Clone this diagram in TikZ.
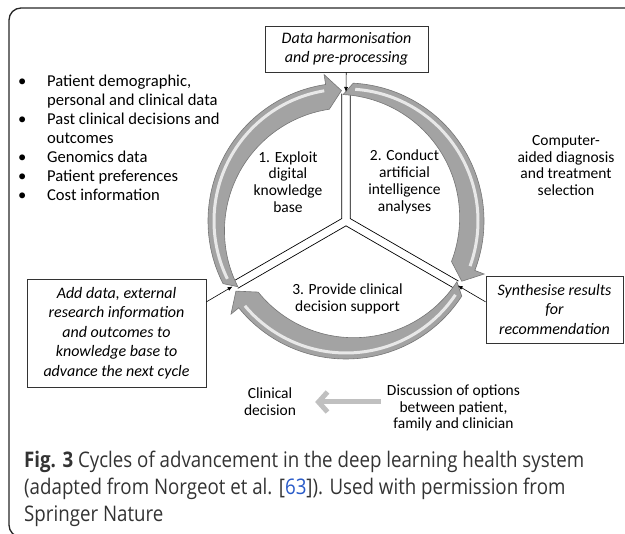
\documentclass[tikz,border=0pt]{standalone}
\usepackage{fontspec}
\setmainfont{Carlito}
\newfontfamily\capfont{Open Sans}[FakeStretch=0.87]
\usetikzlibrary{arrows.meta,calc}

\definecolor{ringgray}{RGB}{163,163,163}
\definecolor{ringedge}{RGB}{118,118,118}
\definecolor{ringshine}{RGB}{232,232,232}
\definecolor{optgray}{RGB}{192,192,192}
\definecolor{citeblue}{RGB}{40,90,200}

\tikzset{
  celltext/.style={font=\fontsize{15.5}{16.8}\selectfont, align=center, inner sep=0pt},
  notebox/.style={draw=black!80, line width=0.9pt, font=\fontsize{16}{19.5}\selectfont\itshape, align=center, inner sep=0pt},
  feed/.style={-{Latex[length=5pt,width=4pt]}, line width=0.6pt},
  cut/.style={line width=0.7pt},
  ringarrow/.style={fill=ringgray, draw=ringedge, line width=0.6pt},
  shine/.style={draw=ringshine, line width=3pt},
  optarrow/.style={draw=optgray, line width=5pt, -{Straight Barb[length=9pt,width=20pt]}},
}

\begin{document}
\begin{tikzpicture}[x=1pt, y=1pt]
  \useasboundingbox (0,0) rectangle (625,534);
  \begin{scope}
    \clip (0,0) rectangle (625,534);
    \draw[line width=1.3pt, draw=black!85, rounded corners=12pt] (9,-3) rectangle (660,526);
  \end{scope}

  \coordinate (hub) at (346,313);
  \coordinate (leftcorner) at ($(hub)+(150:4.85)$);
  \coordinate (rightcorner) at ($(hub)+(30:4.85)$);
  \coordinate (lowcorner) at ($(hub)+(270:4.85)$);

  \draw[cut] ($(leftcorner)+(90:125)$) -- (leftcorner) -- ++(210:125);
  \draw[cut] ($(rightcorner)+(90:125)$) -- (rightcorner) -- ++(330:125);
  \draw[cut] ($(lowcorner)+(210:125)$) -- (lowcorner) -- ++(330:125);

  \begin{scope}[shift={(hub)}]
    \foreach \tail/\tip in {207/92, 87/-27.5, -33/-147.5}{
      \path[ringarrow] (\tail:138) arc[start angle=\tail, end angle=\tip+6.5, radius=138]
        -- ({\tip+6.5}:148) -- (\tip:130.5) -- ({\tip+6.5}:113)
        arc[start angle=\tip+6.5, end angle=\tail, radius=123] -- cycle;
      \draw[shine] ({\tail-1}:132) arc[start angle=\tail-1, end angle=\tip+7.5, radius=132];
    }
  \end{scope}

  \coordinate (toptip) at ($(hub)+(90:129)$);
  \coordinate (righttip) at ($(hub)+(330:129)$);
  \coordinate (lefttip) at ($(hub)+(210:131)$);
  \coordinate (rightfoot) at ($(hub)+(330:161.7)$);
  \coordinate (leftfoot) at ($(hub)+(210:161.7)$);

  \node[notebox, minimum width=163pt, minimum height=46pt] (harmonise) at (346.5,485) {Data harmonisation\\and pre-processing};
  \node[notebox, minimum width=137pt, minimum height=67pt] (synthesise) at (554.5,224.5) {Synthesise results\\for\\recommendation};
  \node[notebox, minimum width=179pt, minimum height=108pt] (adddata) at (116.5,201) {Add data, external\\research information\\and outcomes to\\knowledge base to\\advance the next cycle};

  \draw[feed] (harmonise) -- (toptip);
  \draw[feed] (synthesise.west |- rightfoot) -- (righttip);
  \draw[feed] (adddata.east |- leftfoot) -- (lefttip);

  \node[celltext] (exploit) at (288,352) {1. Exploit\\digital\\knowledge\\base};
  \node[celltext] (conduct) at (404.5,352) {2. Conduct\\artificial\\intelligence\\analyses};
  \node[celltext] (provide) at (347.5,235.5) {3. Provide clinical\\decision support};
  \node[celltext] (cad) at (566,368.5) {Computer-\\aided diagnosis\\and treatment\\selection};
  \node[celltext] (decision) at (270,132) {Clinical\\decision};
  \node[celltext] (discuss) at (453.5,126) {Discussion of options\\between patient,\\family and clinician};
  \draw[optarrow] ([xshift=-6pt]discuss.west |- decision) -- ([xshift=19pt]decision.east);

  \node[celltext, font=\fontsize{16.6}{19}\selectfont, anchor=north west, align=left] (sources) at (18,461) {%
    \begin{tabular}{@{}l@{\hspace{20.7pt}}l@{}}
      \textbullet & Patient demographic,\\
                  & personal and clinical data\\
      \textbullet & Past clinical decisions and\\
                  & outcomes\\
      \textbullet & Genomics data\\
      \textbullet & Patient preferences\\
      \textbullet & Cost information
    \end{tabular}};

  \node[anchor=north west, inner sep=0pt, align=left, text=black!80, font=\capfont\fontsize{21.5}{27}\selectfont] (caption) at (24,83) {\textbf{Fig. 3} Cycles of advancement in the deep learning health system\\(adapted from Norgeot et al. [\textcolor{citeblue}{63}]). Used with permission from\\Springer Nature};
\end{tikzpicture}
\end{document}
